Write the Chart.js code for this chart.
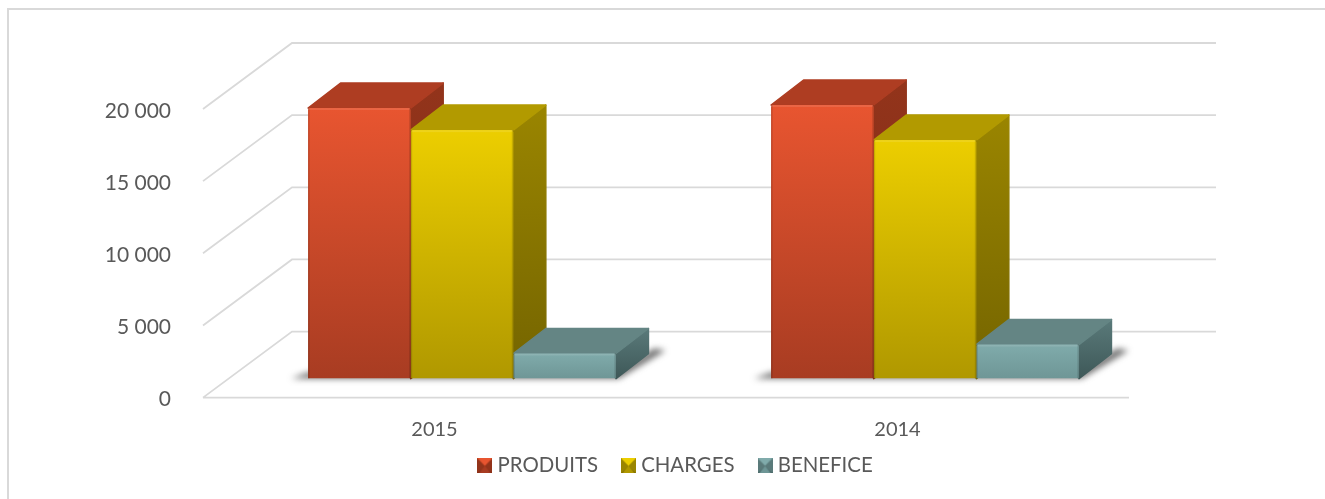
<!DOCTYPE html>
<html><head><meta charset="utf-8">
<style>html,body{margin:0;padding:0;background:#fff}#w{width:1325px;height:499px;position:relative}</style>
<script src="https://cdn.jsdelivr.net/npm/chart.js@4/dist/chart.umd.min.js"></script>
</head><body><div id="w"><canvas id="c" width="1325" height="499"></canvas></div>
<script>
const categories = ['2015', '2014'];
const produits = [18750, 18960];
const charges = [17220, 16530];
const benefice = [1740, 2360];
const yTicks = [0, 5000, 10000, 15000, 20000];
const seriesNames = ['PRODUITS', 'CHARGES', 'BENEFICE'];

const palette = [
  {top:'#e85530',bot:'#a83c22',cap:'#ae3d22',s1:'#93341b',s2:'#7a2b16'},
  {top:'#ecce00',bot:'#b09800',cap:'#b29a00',s1:'#9a8500',s2:'#746400'},
  {top:'#80abab',bot:'#6e9696',cap:'#648584',s1:'#5a7a7a',s2:'#3e5858'}
];
const PLANE_DX = 27.5, PLANE_DY = -19, DEPTH_DX = 32.5, DEPTH_DY = -25;
const WALL_DX = 89, WALL_DY = -66;
const LEGEND_SHIFT_X = 113, LEGEND_SHIFT_Y = -13;

function poly(ctx,pts,fill,round){
  ctx.fillStyle=fill;ctx.beginPath();
  pts.forEach((q,i)=>i?ctx.lineTo(q[0],q[1]):ctx.moveTo(q[0],q[1]));ctx.closePath();ctx.fill();
  if(round){ctx.strokeStyle=fill;ctx.lineWidth=1.5;ctx.lineJoin='round';ctx.stroke();}
}
function swatch(p){
  const c = document.createElement('canvas'); c.width = 15; c.height = 15;
  const x = c.getContext('2d');
  const g=x.createLinearGradient(0,0,0,15);g.addColorStop(0,p.top);g.addColorStop(1,p.s2);
  x.fillStyle=g;x.fillRect(0,0,15,15);
  poly(x,[[1,0],[14,0],[7.5,7.5]],p.top);
  poly(x,[[0,0],[7.5,8],[0,15]],p.s1);
  poly(x,[[15,0],[7.5,8],[15,15]],p.s1);
  poly(x,[[1.5,15],[7.5,8],[13.5,15]],p.bot);
  return c;
}

const walls = {
  id:'walls',
  afterLayout(chart){
    const l=chart.legend; l.left+=LEGEND_SHIFT_X; l.right+=LEGEND_SHIFT_X; l.top+=LEGEND_SHIFT_Y; l.bottom+=LEGEND_SHIFT_Y;
  },
  beforeDatasetsDraw(chart){
    const {ctx,scales:{x,y}} = chart;
    const left=x.left,right=x.right,bottom=y.getPixelForValue(0);
    ctx.save();ctx.strokeStyle='#d9d9d9';ctx.lineWidth=1.8;
    ctx.beginPath();
    yTicks.forEach(v=>{
      const p=y.getPixelForValue(v);
      ctx.moveTo(left,p);ctx.lineTo(left+WALL_DX,p+WALL_DY);ctx.lineTo(right+WALL_DX-2,p+WALL_DY);
    });
    ctx.moveTo(left,bottom);ctx.lineTo(right,bottom);
    ctx.stroke();
    ctx.restore();
    ctx.save();ctx.translate(PLANE_DX,PLANE_DY);
    // floor shadow
    chart.getDatasetMeta(0).data.forEach((e,i)=>{
      const last=chart.getDatasetMeta(2).data[i];
      const lw=e.x-e.width/2, rw=last.x+last.width/2, b=e.base;
      ctx.save();ctx.filter='blur(3px)';
      poly(ctx,[[lw-17,b],[rw+3,b],[rw+DEPTH_DX+17,b+DEPTH_DY-3],[rw+DEPTH_DX+6,b+DEPTH_DY-5],[rw,b-8],[lw,b-6]],'rgba(60,60,60,.75)');
      ctx.restore();
    });
    // depth faces in series order
    [0,1,2].forEach((ds,si)=>{
      const p=palette[si];
      chart.getDatasetMeta(ds).data.forEach(e=>{
        const l=e.x-e.width/2,r=e.x+e.width/2,t=e.y,b=e.base;
        const g=ctx.createLinearGradient(0,t+DEPTH_DY,0,b);g.addColorStop(0,p.s1);g.addColorStop(1,p.s2);
        poly(ctx,[[r,t],[r+DEPTH_DX,t+DEPTH_DY],[r+DEPTH_DX,b+DEPTH_DY],[r,b]],g,true);
        poly(ctx,[[l,t],[l+DEPTH_DX,t+DEPTH_DY],[r+DEPTH_DX,t+DEPTH_DY],[r,t]],p.cap,true);
      });
    });
  },
  afterDatasetsDraw(chart){
    const {ctx}=chart;
    [0,1,2].forEach(ds=>{
      chart.getDatasetMeta(ds).data.forEach(e=>{
        const l=e.x-e.width/2,r=e.x+e.width/2,t=e.y,b=e.base;
        ctx.fillStyle='rgba(255,255,255,.10)';ctx.fillRect(l+1,t,r-l-2,2);
        ctx.fillStyle='rgba(0,0,0,.14)';ctx.fillRect(r-1.5,t,1.5,b-t);ctx.fillRect(l,t,1.5,b-t);
      });
    });
    ctx.restore();
  }
};
const frame = {
  id:'frame',
  beforeDraw(chart){
    const {ctx}=chart;ctx.save();ctx.strokeStyle='#d9d9d9';ctx.lineWidth=2;
    ctx.beginPath();ctx.moveTo(8,499);ctx.lineTo(8,9);ctx.lineTo(1325,9);ctx.stroke();ctx.restore();
  }
};
function grad(si){
  return c=>{
    const ch=c.chart,y=ch.scales&&ch.scales.y;
    if(!y||c.raw===undefined) return palette[si].top;
    const a=y.getPixelForValue(c.raw),b=y.getPixelForValue(0);
    if(!isFinite(a)||!isFinite(b)) return palette[si].top;
    const g=ch.ctx.createLinearGradient(0,a,0,b);
    g.addColorStop(0,palette[si].top);g.addColorStop(1,palette[si].bot);return g;
  };
}
const values=[produits,charges,benefice];
new Chart(document.getElementById('c'),{
  type:'bar',
  data:{labels:categories,datasets:seriesNames.map((n,i)=>({
    label:n,data:values[i],backgroundColor:grad(i),borderWidth:0,
    borderRadius:{topLeft:2,topRight:2,bottomLeft:0,bottomRight:0},borderSkipped:false,
    categoryPercentage:0.665,barPercentage:1,pointStyle:swatch(palette[i])
  }))},
  plugins:[frame,walls],
  options:{
    responsive:false,animation:false,
    layout:{padding:{left:0,right:196,top:109,bottom:0}},
    plugins:{
      tooltip:{enabled:false},
      legend:{position:'bottom',onClick:null,
        labels:{usePointStyle:true,color:'#595959',font:{family:'Lato',size:20.4},padding:28,boxWidth:5,boxHeight:15}}
    },
    scales:{
      x:{grid:{display:false},border:{display:false},
        ticks:{color:'#595959',font:{family:'Lato',size:20},padding:12,maxRotation:0},
        afterFit(s){s.height=43;}},
      y:{min:0,max:20000,grid:{display:false},border:{display:false},
        afterBuildTicks(s){s.ticks=yTicks.map(v=>({value:v}));},
        ticks:{color:'#595959',font:{family:'Lato',size:21},padding:24,labelOffset:2,
          callback:v=>String(v).replace(/\B(?=(\d{3})+$)/g,' ')},
        afterFit(s){s.width=203;}}
    }
  }
});
</script></body></html>
